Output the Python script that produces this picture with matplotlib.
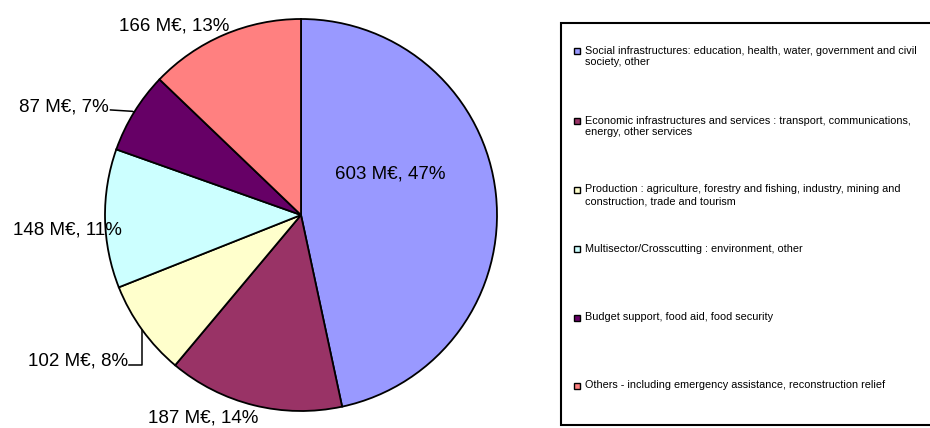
import matplotlib
matplotlib.use('Agg')
import matplotlib.pyplot as plt
from matplotlib.patches import Rectangle
import numpy as np

plt.rcParams['font.family'] = ['Liberation Sans', 'DejaVu Sans']

# data: M EUR by sector
values = [603, 187, 102, 148, 87, 166]
colors = ['#9999FF', '#993366', '#FFFFCC', '#CCFFFF', '#660066', '#FF8080']
legend_labels = [
    'Social infrastructures: education, health, water, government and civil\nsociety, other',
    'Economic infrastructures and services : transport, communications,\nenergy, other services',
    'Production : agriculture, forestry and fishing, industry, mining and\nconstruction, trade and tourism',
    'Multisector/Crosscutting : environment, other',
    'Budget support, food aid, food security',
    'Others - including emergency assistance, reconstruction relief',
]

W, H = 930, 428
cx, cy, R = 301, 215, 196  # pie centre / radius in pixels

fig = plt.figure(figsize=(W / 100, H / 100), dpi=100)
ax = fig.add_axes([0, 0, 1, 1])
ax.pie(values, colors=colors, startangle=90, counterclock=False,
       wedgeprops=dict(edgecolor='black', linewidth=1.3))
ax.set_xlim(-cx / R, (W - cx) / R)
ax.set_ylim((cy - H) / R, cy / R)
ax.set_aspect('auto')
ax.axis('off')

total = sum(values)
labels = ['%d M€, %d%%' % (v, round(100.0 * v / total)) for v in values]

# label placement (data units), alignment
lab_pos = [(0.454, 0.21, 'center'), (-0.50, -1.036, 'center'), (-0.882, -0.745, 'right'),
           (-1.194, -0.077, 'center'), (-0.98, 0.551, 'right'), (-0.648, 0.964, 'center')]
for lab, (x, y, ha) in zip(labels, lab_pos):
    ax.text(x, y, lab, ha=ha, va='center', fontsize=13.5, color='black')

# leader lines to slice mid-angle on the rim
cum = np.cumsum([0] + values)
mids = [np.deg2rad(90 - 360.0 * (cum[i] + cum[i + 1]) / 2 / total) for i in range(len(values))]
# 87 M€ slice
m = mids[4]
ex, ey = np.cos(m), np.sin(m)
ax.plot([-0.972, ex - 0.01, ex], [0.536, ey + 0.004, ey], color='black', lw=1.1)
# 102 M€ slice
m = mids[2]
ex, ey = np.cos(m), np.sin(m)
ax.plot([-0.878, ex, ex], [-0.765, -0.765, ey], color='black', lw=1.1)

# legend box drawn by hand, pixel positions (right side runs off the image)
fig.patches.append(Rectangle((561 / W, 1 - 425 / H), 420 / W, 402 / H, transform=fig.transFigure,
                             facecolor='white', edgecolor='black', linewidth=1.5, zorder=0))
leg_y = [51, 121, 190, 249, 318, 386]
for lab, col, y in zip(legend_labels, colors, leg_y):
    fig.patches.append(Rectangle((574 / W, 1 - (y + 3) / H), 6 / W, 6 / H, transform=fig.transFigure,
                                 facecolor=col, edgecolor='black', linewidth=1.0, zorder=2))
    fig.text(585 / W, 1 - (y - 5.5) / H, lab, ha='left', va='top', fontsize=7.8, linespacing=1.2)

fig.savefig('out.png', dpi=100)
